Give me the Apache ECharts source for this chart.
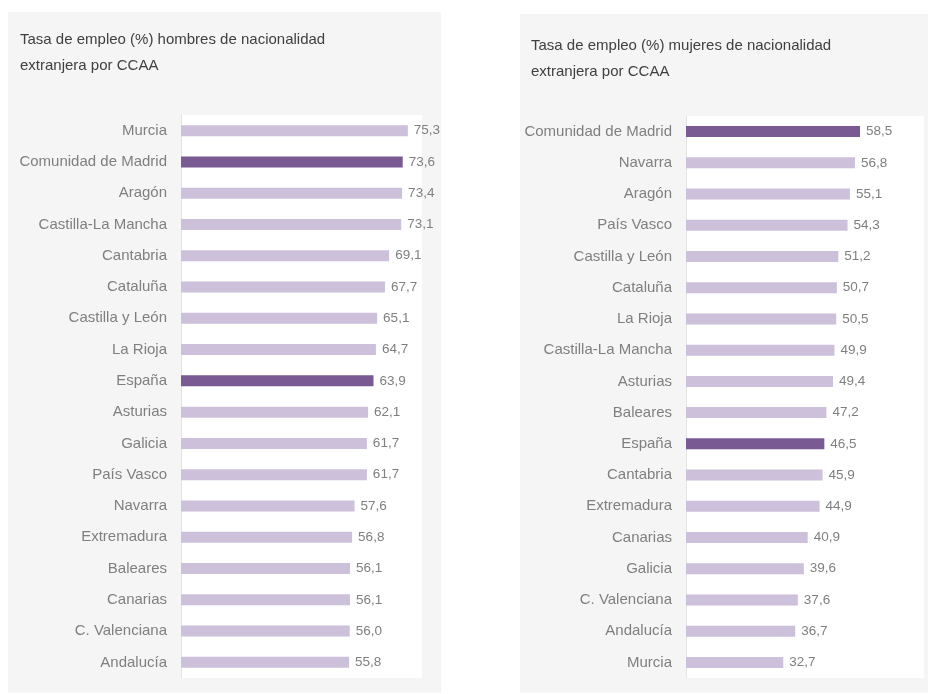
<!DOCTYPE html>
<html>
<head>
<meta charset="utf-8">
<script src="https://cdn.jsdelivr.net/npm/echarts@6/dist/echarts.min.js"></script>
<style>
    html, body { margin: 0; padding: 0; background: #fff; }
    #chart { width: 928px; height: 694px; }
</style>
</head>
<body>
<div id="chart"></div>
<script>
// hombres
const catHombres = ['Murcia', 'Comunidad de Madrid', 'Aragón', 'Castilla-La Mancha', 'Cantabria', 'Cataluña',
    'Castilla y León', 'La Rioja', 'España', 'Asturias', 'Galicia', 'País Vasco', 'Navarra', 'Extremadura',
    'Baleares', 'Canarias', 'C. Valenciana', 'Andalucía'];
const valHombres = [75.3, 73.6, 73.4, 73.1, 69.1, 67.7, 65.1, 64.7, 63.9, 62.1, 61.7, 61.7, 57.6, 56.8, 56.1, 56.1, 56.0, 55.8];

// mujeres
const catMujeres = ['Comunidad de Madrid', 'Navarra', 'Aragón', 'País Vasco', 'Castilla y León', 'Cataluña',
    'La Rioja', 'Castilla-La Mancha', 'Asturias', 'Baleares', 'España', 'Cantabria', 'Extremadura', 'Canarias',
    'Galicia', 'C. Valenciana', 'Andalucía', 'Murcia'];
const valMujeres = [58.5, 56.8, 55.1, 54.3, 51.2, 50.7, 50.5, 49.9, 49.4, 47.2, 46.5, 45.9, 44.9, 40.9, 39.6, 37.6, 36.7, 32.7];

const destacados = ['Comunidad de Madrid', 'España'];

const FONT = '"Liberation Sans", Arial, sans-serif';
const LIGHT = '#ccc0da';
const DARK = '#795a93';

// color por barra: oscuro para Madrid y España
const toData = (cats, vals) => vals.map((v, i) => ({
    value: v,
    itemStyle: { color: destacados.includes(cats[i]) ? DARK : LIGHT }
}));

const makeSeries = (idx, cats, vals) => ({
    type: 'bar',
    xAxisIndex: idx,
    yAxisIndex: idx,
    barWidth: 11,
    data: toData(cats, vals),
    label: {
        show: true,
        position: 'right',
        distance: 6,
        color: '#7f7f7f',
        fontFamily: FONT,
        fontSize: 13.5,
        formatter: p => p.value.toFixed(1).replace('.', ',')
    },
    silent: true
});

const makeYAxis = (idx, cats) => ({
    type: 'category',
    gridIndex: idx,
    data: cats,
    inverse: true,
    axisLine: { show: true, lineStyle: { color: '#e3e3e3', width: 1 } },
    axisTick: { show: false },
    axisLabel: { color: '#7f7f7f', fontFamily: FONT, fontSize: 15, margin: 14 }
});

const makeXAxis = idx => ({
    type: 'value',
    gridIndex: idx,
    min: 0,
    max: 80,
    show: false,
    splitLine: { show: false }
});

const chart = echarts.init(document.getElementById('chart'));
chart.setOption({
    animation: false,
    backgroundColor: '#fff',
    graphic: [
        { type: 'rect', z: -10, shape: { x: 8, y: 12, width: 433, height: 681 }, style: { fill: '#f5f5f5' } },
        { type: 'rect', z: -10, shape: { x: 520, y: 14, width: 408, height: 679 }, style: { fill: '#f5f5f5' } }
    ],
    title: [
        {
            text: 'Tasa de empleo (%) hombres de nacionalidad\nextranjera por CCAA',
            left: 20, top: 27,
            padding: 0,
            textStyle: { color: '#404040', fontFamily: FONT, fontSize: 15, fontWeight: 'normal', lineHeight: 26 }
        },
        {
            text: 'Tasa de empleo (%) mujeres de nacionalidad\nextranjera por CCAA',
            left: 531, top: 33,
            padding: 0,
            textStyle: { color: '#404040', fontFamily: FONT, fontSize: 15, fontWeight: 'normal', lineHeight: 26 }
        }
    ],
    grid: [
        { left: 181, top: 115, width: 241, height: 563, show: true, backgroundColor: '#fff', borderWidth: 0, outerBoundsMode: 'none' },
        { left: 686, top: 116, width: 238, height: 562, show: true, backgroundColor: '#fff', borderWidth: 0, outerBoundsMode: 'none' }
    ],
    xAxis: [makeXAxis(0), makeXAxis(1)],
    yAxis: [makeYAxis(0, catHombres), makeYAxis(1, catMujeres)],
    series: [makeSeries(0, catHombres, valHombres), makeSeries(1, catMujeres, valMujeres)]
});
</script>
</body>
</html>
